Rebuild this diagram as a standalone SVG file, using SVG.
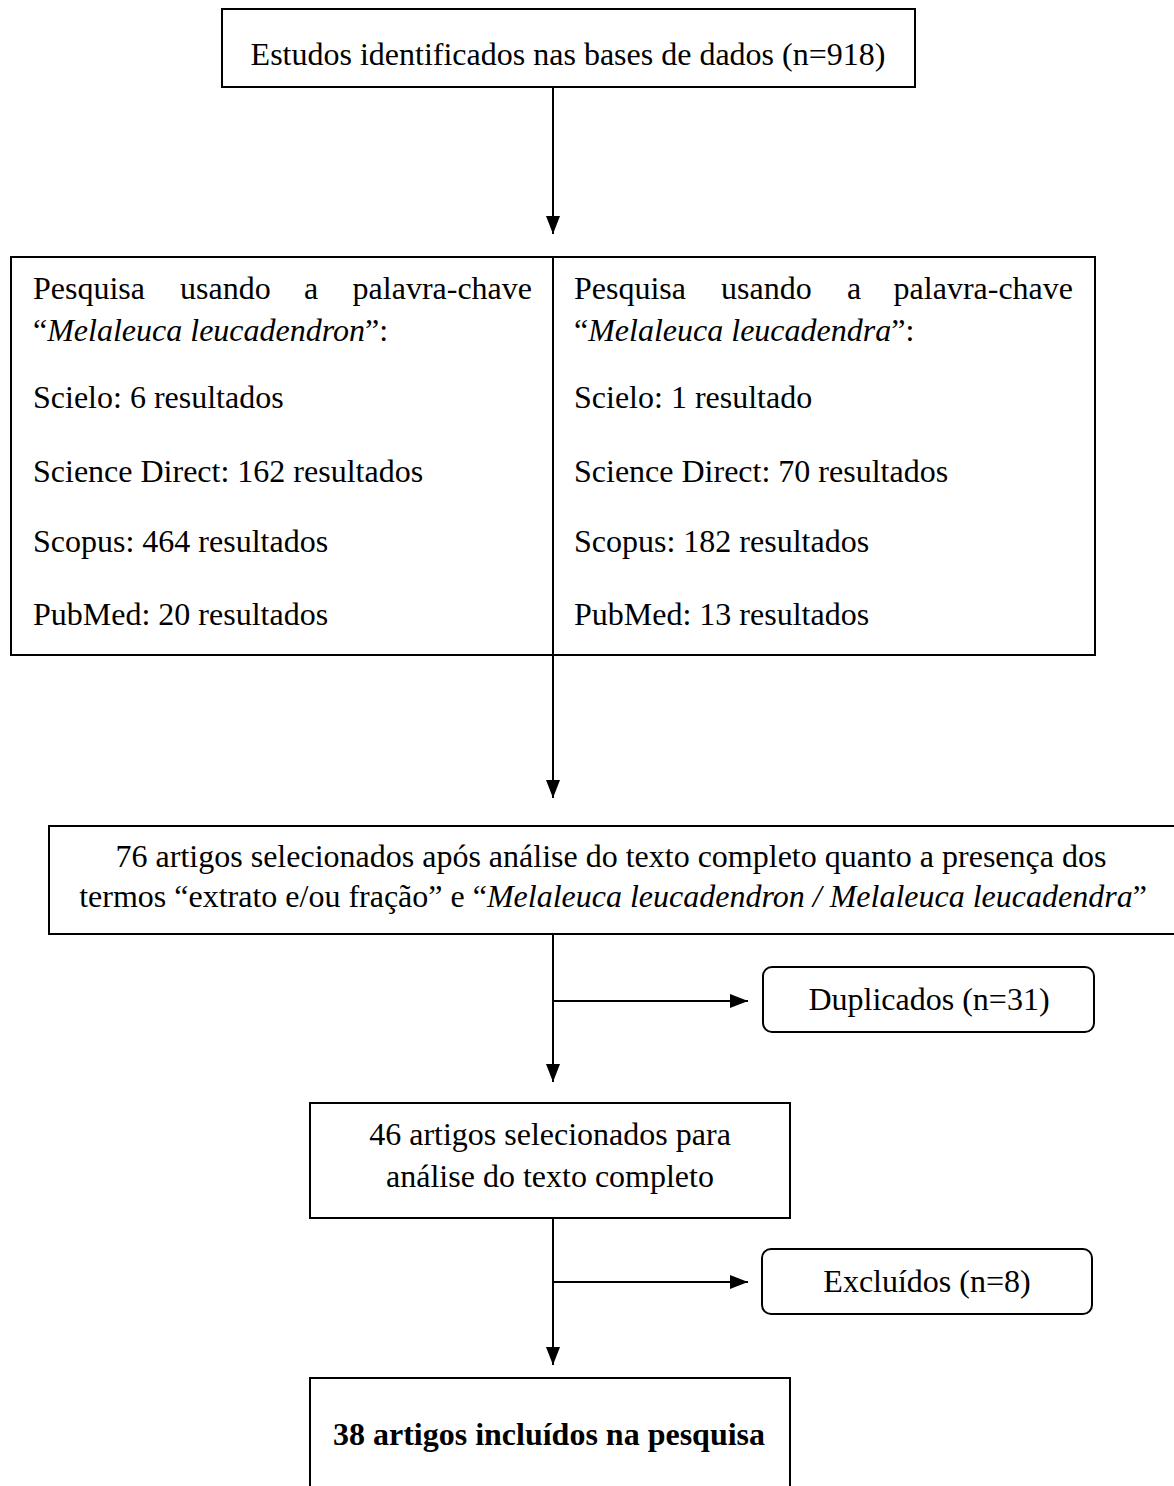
<svg xmlns="http://www.w3.org/2000/svg" width="1174" height="1486" viewBox="0 0 1174 1486">
<style>
.box{fill:#fff;stroke:#000;stroke-width:2}
.t{font-family:"Liberation Serif","Times New Roman",serif;font-size:32px;fill:#000}
.c{text-anchor:middle}
.i{font-style:italic}
.b{font-weight:bold}
.ln{stroke:#000;stroke-width:2;fill:none}
</style>
<defs>
<marker id="ah" markerWidth="18" markerHeight="14" refX="18" refY="7" orient="auto" markerUnits="userSpaceOnUse">
<path d="M0,0 L18,7 L0,14 Z" fill="#000"/>
</marker>
</defs>
<rect width="1174" height="1486" fill="#fff"/>
<g id="connectors">
<line class="ln" x1="553" y1="87" x2="553" y2="234" marker-end="url(#ah)"/>
<line class="ln" x1="553" y1="655" x2="553" y2="798" marker-end="url(#ah)"/>
<line class="ln" x1="553" y1="934" x2="553" y2="1082" marker-end="url(#ah)"/>
<line class="ln" x1="553" y1="1001" x2="748" y2="1001" marker-end="url(#ah)"/>
<line class="ln" x1="553" y1="1218" x2="553" y2="1365" marker-end="url(#ah)"/>
<line class="ln" x1="553" y1="1282" x2="748" y2="1282" marker-end="url(#ah)"/>
</g>
<g id="n1">
<rect class="box" x="222" y="9" width="693" height="78"/>
<text class="t c" x="568" y="65">Estudos identificados nas bases de dados (n=918)</text>
</g>
<g id="n2">
<rect class="box" x="11" y="257" width="1084" height="398"/>
<line class="ln" x1="553" y1="257" x2="553" y2="655"/>
<text class="t" y="299"><tspan x="33">Pesquisa</tspan><tspan x="180">usando</tspan><tspan x="304">a</tspan><tspan x="532" text-anchor="end">palavra-chave</tspan></text>
<text class="t" x="33" y="341">“<tspan class="i">Melaleuca leucadendron</tspan>”:</text>
<text class="t" x="33" y="408">Scielo: 6 resultados</text>
<text class="t" x="33" y="482">Science Direct: 162 resultados</text>
<text class="t" x="33" y="552">Scopus: 464 resultados</text>
<text class="t" x="33" y="625">PubMed: 20 resultados</text>
<text class="t" y="299"><tspan x="574">Pesquisa</tspan><tspan x="721">usando</tspan><tspan x="847">a</tspan><tspan x="1073" text-anchor="end">palavra-chave</tspan></text>
<text class="t" x="574" y="341">“<tspan class="i">Melaleuca leucadendra</tspan>”:</text>
<text class="t" x="574" y="408">Scielo: 1 resultado</text>
<text class="t" x="574" y="482">Science Direct: 70 resultados</text>
<text class="t" x="574" y="552">Scopus: 182 resultados</text>
<text class="t" x="574" y="625">PubMed: 13 resultados</text>
</g>
<g id="n3">
<rect class="box" x="49" y="826" width="1130" height="108"/>
<text class="t c" x="611" y="867">76 artigos selecionados após análise do texto completo quanto a presença dos</text>
<text class="t c" x="613" y="907">termos “extrato e/ou fração” e “<tspan class="i">Melaleuca leucadendron / Melaleuca leucadendra</tspan>”</text>
</g>
<g id="n4">
<rect class="box" x="763" y="967" width="331" height="65" rx="9"/>
<text class="t c" x="929" y="1010">Duplicados (n=31)</text>
</g>
<g id="n5">
<rect class="box" x="310" y="1103" width="480" height="115"/>
<text class="t c" x="550" y="1145">46 artigos selecionados para</text>
<text class="t c" x="550" y="1187">análise do texto completo</text>
</g>
<g id="n6">
<rect class="box" x="762" y="1249" width="330" height="65" rx="9"/>
<text class="t c" x="927" y="1292">Excluídos (n=8)</text>
</g>
<g id="n7">
<rect class="box" x="310" y="1378" width="480" height="130"/>
<text class="t c b" x="549" y="1445">38 artigos incluídos na pesquisa</text>
</g>
</svg>
